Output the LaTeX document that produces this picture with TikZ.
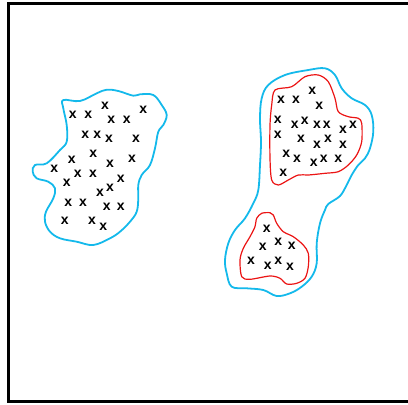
\documentclass[tikz,border=0pt]{standalone}
\usepackage{fontspec}
\setmainfont{Liberation Sans}
\begin{document}
\begin{tikzpicture}[x=1pt,y=-1pt,
  xmark/.style={inner sep=0pt,font=\bfseries\fontsize{14}{14}\selectfont},
  blueline/.style={draw={rgb,255:red,20;green,185;blue,235},line width=1.8pt},
  redline/.style={draw={rgb,255:red,235;green,20;blue,20},line width=1.2pt},
  frameline/.style={draw=black,line width=3pt}]
\useasboundingbox (0,0) rectangle (408,405);
\draw[frameline] (412,3.5) -- (8.5,3.5) -- (8.5,401.5) -- (412,401.5);
% left cluster outline
\draw[blueline] plot[smooth cycle,tension=0.6] coordinates {
 (63.3,100) (80,101) (96.7,93.3) (106.7,89.7) (118.3,91) (133.3,95.7) (140,94.3)
 (153.3,95) (161.7,105) (166.7,115) (163.3,125) (158.3,131.7) (155,148.3)
 (150,165) (141.7,175) (138.3,185) (138.3,198.3) (136.7,211.7) (130,221.7)
 (120,231.7) (110,238.3) (93.3,245) (76.7,241.7) (60,238.3) (50,231.7)
 (45,221.7) (46,211.7) (53.3,198.3) (55,188.3) (48.3,181.7) (36.7,178.3)
 (32.7,171.7) (35,165) (46.7,163.3) (60,150) (66.7,141.7) (66.7,125) (63.3,108.3)};
% right cluster outline
\draw[blueline] plot[smooth cycle,tension=0.6] coordinates {
 (268.3,85) (285,75) (308.3,70) (325,68.3) (335,75) (341.7,88.3) (351.7,98.3)
 (365,105) (371.7,115) (373.3,131.7) (370,148.3) (365,158.3) (358.3,165)
 (351.7,175) (346.7,185) (340,196) (328.3,204) (325,210) (320,223.3)
 (316.7,243.3) (316.7,263.3) (311.7,276.7) (301.7,286.7) (290,293.3)
 (276.7,296) (263.3,290) (246.7,288.3) (231.7,286.7) (226.7,273.3) (225,260)
 (228.3,243.3) (235,230) (245,218.3) (253.3,203.3) (258.3,190) (260,165)
 (261,141.7) (260,118.3) (261.7,98.3)};
% red upper
\draw[redline] plot[smooth cycle,tension=0.5] coordinates {
 (275,90) (291.7,86.7) (305,76.7) (318.3,75) (328.3,81.7) (335,98.3) (338.3,111.7)
 (348.3,116.7) (358.3,118.3) (361.7,123.3) (361.7,141.7) (356.7,155) (348.3,165)
 (338.3,171.7) (325,173.3) (308.3,175) (298.3,175) (288.3,180) (278.3,185)
 (271.7,180) (270,158.3) (270,125) (271.7,105)};
% red lower
\draw[redline] plot[smooth cycle,tension=0.5] coordinates {
 (270,212.7) (261.7,213.3) (256.7,218.3) (255,226.7) (250,236.7) (243.3,248.3)
 (240,260) (241.7,276.7) (250,279.3) (270,276) (280,278.3) (286.7,284)
 (296.7,283.3) (305,278.3) (308.3,266.7) (308.3,253.3) (303.3,245) (293.3,236.7)
 (283.3,231.7) (276.7,223.3) (273.3,215)};
% marks left
\foreach \px/\py [count=\i] in {72.7/115, 88.3/115, 105/106, 111.3/119.7, 126.7/119.3,
 143.3/110, 85.3/135, 97.3/135, 109/138.7, 136/139, 71.7/160, 93.3/153.7, 110/163.7,
 132/158.3, 54.3/168.3, 77.7/173.3, 93/173.3, 120.7/178.7, 66.7/182.3, 110/187.7,
 100/192.3, 68.3/202.3, 83/202.3, 106.7/206.7, 120.7/206.7, 64.7/221, 92/221, 103.3/226.7}
  \node[xmark] (L\i) at (\px,\py) {x};
% marks right upper
\foreach \px/\py [count=\i] in {281/100, 296/100, 312.3/90.7, 319.3/105.7, 277.7/120,
 294.7/124.3, 304.7/120.7, 317/125, 326.7/125, 343/129.3, 353/124.3, 277.7/134.3,
 301/139, 317/144.3, 328/139, 343/144.3, 286.3/153.3, 297/159, 313.7/162.3,
 323.7/158.3, 338.3/159, 283.3/172.3}
  \node[xmark] (U\i) at (\px,\py) {x};
% marks right lower
\foreach \px/\py [count=\i] in {266.7/228.3, 262.7/246.7, 278.3/241.7, 291.7/246,
 251/260.7, 267.7/266, 278.3/260.7, 290/266.7}
  \node[xmark] (W\i) at (\px,\py) {x};
\end{tikzpicture}
\end{document}
